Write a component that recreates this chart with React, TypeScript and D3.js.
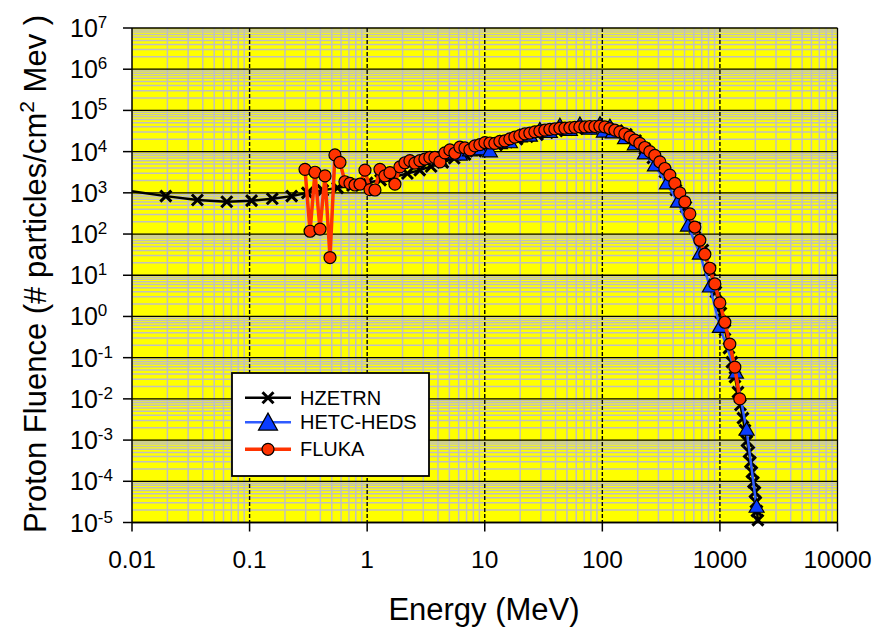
import React from "react";
import * as d3 from "d3";

// HZETRN transport code result
const hzetrnEnergy = [0.008, 0.0194, 0.036, 0.064, 0.104, 0.156, 0.228, 0.31, 0.42, 0.56, 0.75, 1.0, 1.3, 1.7, 2.2, 2.8, 3.5, 4.4, 5.5, 6.8, 8.4, 10.3, 12.6, 15.4, 18.8, 23, 28, 34, 41, 50, 61, 74, 90, 110, 133, 160, 192, 230, 269, 341, 423, 514, 613, 716, 822, 925, 1020, 1104, 1194, 1265, 1343, 1424, 1494, 1570, 1633, 1698, 1766, 1817, 1871, 1927, 1985, 2023, 2065, 2104];
const hzetrnFluence = [1200, 832, 668, 608, 646, 720, 832, 1000, 1150, 1320, 1510, 1740, 2040, 2450, 2950, 3550, 4370, 5500, 6920, 8510, 10200, 12300, 14500, 17000, 20000, 22900, 25700, 28800, 31600, 33900, 35900, 37200, 37600, 36300, 32400, 26300, 18600, 11700, 7000, 3200, 1170, 452, 140, 40.9, 13.4, 3.91, 1.21, 0.468, 0.171, 0.0782, 0.0338, 0.0146, 0.00708, 0.00342, 0.00175, 0.000946, 0.000512, 0.000292, 0.000167, 9.57e-5, 5.47e-5, 3.13e-5, 1.89e-5, 1.14e-5];

// HETC-HEDS Monte Carlo result
const hetcEnergy = [4.16, 5.06, 6.15, 7.48, 9.1, 11.07, 13.46, 16.37, 19.92, 24.2, 29.4, 35.8, 43.6, 53.0, 64.5, 78.5, 95.5, 103, 116, 123, 156, 189, 230, 280, 354, 439, 535, 676, 822, 1000, 1368, 1687, 2051];
const hetcFluence = [6030, 8910, 8320, 10500, 11200, 10000, 15800, 16600, 22900, 24000, 33100, 29500, 41700, 33100, 44700, 35500, 45700, 30200, 39800, 28800, 20900, 14800, 8910, 4570, 1660, 603, 158, 33.1, 5.25, 0.55, 0.0427, 0.00175, 2.37e-5];

// FLUKA Monte Carlo result
const flukaEnergy = [0.296, 0.327, 0.36, 0.397, 0.438, 0.483, 0.532, 0.587, 0.647, 0.714, 0.787, 0.869, 0.958, 1.056, 1.165, 1.284, 1.416, 1.562, 1.722, 1.899, 2.094, 2.31, 2.547, 2.809, 3.098, 3.416, 3.767, 4.155, 4.582, 5.053, 5.573, 6.146, 6.778, 7.475, 8.243, 9.091, 10.03, 11.06, 12.19, 13.45, 14.83, 16.35, 18.04, 19.89, 21.94, 24.19, 26.68, 29.42, 32.45, 35.79, 39.47, 43.53, 48.0, 52.94, 58.38, 64.39, 71.01, 78.31, 86.37, 95.25, 105.0, 115.9, 127.8, 140.9, 155.4, 171.4, 189.0, 208.5, 229.9, 253.6, 279.6, 308.4, 340.1, 375.1, 413.7, 456.2, 503.1, 554.9, 611.9, 674.9, 744.3, 820.8, 905.3, 998.4, 1101, 1214, 1339, 1476];
const flukaFluence = [3720, 117, 3160, 132, 2570, 26.9, 8320, 5500, 1860, 1700, 1550, 1620, 3550, 1200, 1170, 3720, 2570, 3090, 1620, 4270, 5370, 6030, 5250, 6030, 6610, 7240, 7240, 5620, 9330, 11000, 9120, 12900, 12300, 11000, 13800, 14800, 16600, 16200, 15800, 17800, 18200, 20400, 22400, 24500, 26900, 28200, 30200, 31600, 33100, 34700, 35500, 37200, 37200, 38000, 38900, 39800, 39800, 40700, 40700, 41700, 39800, 36300, 33100, 30200, 26900, 22900, 19100, 15800, 12600, 10000, 8130, 5620, 3890, 2690, 1700, 1000, 603, 309, 148, 70.8, 32.4, 14.8, 6.17, 2.14, 0.724, 0.214, 0.0589, 0.01];

const xTickValues = [0.01, 0.1, 1, 10, 100, 1000, 10000];
const xTickLabels = ["0.01", "0.1", "1", "10", "100", "1000", "10000"];
const yExponents = [7, 6, 5, 4, 3, 2, 1, 0, -1, -2, -3, -4, -5];

const seriesNames = ["HZETRN", "HETC-HEDS", "FLUKA"];

const W = 881;
const H = 631;
const left = 132;
const right = 837.5;
const top = 28;
const bottom = 522.5;

const FONT = "'Liberation Sans', Arial, Helvetica, sans-serif";
const RED = "#ff3300";
const BLUE_LINE = "#2f5bff";
const BLUE_FILL = "#0a3cff";

export default function App() {
  const x = d3.scaleLog().domain([0.01, 10000]).range([left, right]);
  const y = d3.scaleLog().domain([1e-5, 1e7]).range([bottom, top]);

  const minorX: number[] = [];
  for (let d = -2; d < 4; d++) {
    for (let m = 2; m <= 9; m++) minorX.push(m * Math.pow(10, d));
  }
  const minorY: number[] = [];
  for (let d = -5; d < 7; d++) {
    for (let m = 2; m <= 9; m++) minorY.push(m * Math.pow(10, d));
  }

  const toPts = (e: number[], f: number[]) => e.map((v, i) => [v, f[i]] as [number, number]);
  const hz = toPts(hzetrnEnergy, hzetrnFluence);
  const he = toPts(hetcEnergy, hetcFluence);
  const fl = toPts(flukaEnergy, flukaFluence);

  const line = d3
    .line<[number, number]>()
    .x((d) => x(d[0]))
    .y((d) => y(d[1]));

  const xMark = (cx: number, cy: number, s: number, key: string | number) => (
    <path
      key={key}
      d={`M${cx - s},${cy - s}L${cx + s},${cy + s}M${cx - s},${cy + s}L${cx + s},${cy - s}`}
      stroke="#000"
      strokeWidth={3}
      fill="none"
    />
  );
  const triMark = (cx: number, cy: number, w: number, h: number, key: string | number) => (
    <path
      key={key}
      d={`M${cx},${cy - h * 0.6}L${cx + w / 2},${cy + h * 0.4}L${cx - w / 2},${cy + h * 0.4}Z`}
      fill={BLUE_FILL}
      stroke="#000"
      strokeWidth={1.2}
    />
  );
  const circMark = (cx: number, cy: number, r: number, key: string | number) => (
    <circle key={key} cx={cx} cy={cy} r={r} fill={RED} stroke="#000" strokeWidth={1.2} />
  );

  const legendX = 232;
  const legendY = 373;
  const legendRows = [397.7, 422.3, 449.3];

  return (
    <svg
      width={W}
      height={H}
      style={{ position: "absolute", left: 0, top: 0, background: "#fff" }}
      fontFamily={FONT}
    >
      <defs>
        <clipPath id="plotClip">
          <rect x={left} y={top - 10} width={right - left} height={bottom - top + 20} />
        </clipPath>
      </defs>

      {/* plot background */}
      <rect x={left} y={top} width={right - left} height={bottom - top} fill="#ffff00" />

      {/* minor gridlines */}
      <g stroke="#c0c0c0" strokeWidth={1.5}>
        {minorX.map((v) => (
          <line key={"mx" + v} x1={x(v)} x2={x(v)} y1={top} y2={bottom} />
        ))}
        {minorY.map((v) => (
          <line key={"my" + v} x1={left} x2={right} y1={y(v)} y2={y(v)} />
        ))}
      </g>

      {/* major gridlines */}
      <g>
        {yExponents.map((e) => (
          <line
            key={"My" + e}
            x1={left}
            x2={right}
            y1={y(Math.pow(10, e))}
            y2={y(Math.pow(10, e))}
            stroke="#000"
            strokeWidth={1.3}
          />
        ))}
        {xTickValues.slice(1, -1).map((v) => (
          <line
            key={"Mx" + v}
            x1={x(v)}
            x2={x(v)}
            y1={top}
            y2={bottom}
            stroke="#000"
            strokeWidth={1.4}
            strokeDasharray="4,2"
          />
        ))}
        <line x1={right} x2={right} y1={top} y2={bottom} stroke="#000" strokeWidth={1.3} />
      </g>

      {/* axes */}
      <g stroke="#000" strokeWidth={1.5}>
        <line x1={left} x2={left} y1={top} y2={bottom} />
        <line x1={left} x2={right} y1={bottom} y2={bottom} />
        {yExponents.map((e) => (
          <line key={"ty" + e} x1={left - 9} x2={left} y1={y(Math.pow(10, e))} y2={y(Math.pow(10, e))} />
        ))}
        {xTickValues.map((v) => (
          <line key={"tx" + v} x1={x(v)} x2={x(v)} y1={bottom} y2={bottom + 9} />
        ))}
      </g>

      {/* tick labels */}
      <g fill="#000">
        {yExponents.map((e) => {
          const ty = y(Math.pow(10, e));
          return (
            <text key={"ly" + e} x={70} y={ty + 9} fontSize={25}>
              10
              <tspan dy={-9} fontSize={17}>
                {e < 0 ? "-" + Math.abs(e) : String(e)}
              </tspan>
            </text>
          );
        })}
        {xTickValues.map((v, i) => (
          <text key={"lx" + v} x={x(v)} y={567.5} fontSize={24.5} textAnchor="middle">
            {xTickLabels[i]}
          </text>
        ))}
      </g>

      {/* axis titles */}
      <text x={484} y={620} fontSize={31} textAnchor="middle">
        Energy (MeV)
      </text>
      <text transform="translate(46,274) rotate(-90)" fontSize={31} textAnchor="middle">
        Proton Fluence (# particles/cm
        <tspan dy={-12} fontSize={21}>
          2
        </tspan>
        <tspan dy={12}> Mev )</tspan>
      </text>

      {/* data series */}
      <g clipPath="url(#plotClip)">
        <path d={line(hz) || ""} fill="none" stroke="#000" strokeWidth={2.5} />
        {hz.map((p, i) => xMark(x(p[0]), y(p[1]), 5.5, "hz" + i))}
        <path d={line(he) || ""} fill="none" stroke={BLUE_LINE} strokeWidth={2.5} />
        {he.map((p, i) => triMark(x(p[0]), y(p[1]), 15, 13, "he" + i))}
        <path d={line(fl) || ""} fill="none" stroke={RED} strokeWidth={3.5} />
        {fl.map((p, i) => circMark(x(p[0]), y(p[1]), 6, "fl" + i))}
      </g>

      {/* legend */}
      <g>
        <rect x={legendX} y={legendY} width={197} height={103} fill="#fff" stroke="#000" strokeWidth={1.8} />
        <line x1={245} x2={291} y1={legendRows[0]} y2={legendRows[0]} stroke="#000" strokeWidth={2.5} />
        {xMark(268, legendRows[0], 5.5, "lg0")}
        <line x1={245} x2={291} y1={legendRows[1]} y2={legendRows[1]} stroke={BLUE_LINE} strokeWidth={2.5} />
        {triMark(268, legendRows[1] + 1, 19, 17, "lg1")}
        <line x1={245} x2={291} y1={legendRows[2]} y2={legendRows[2]} stroke={RED} strokeWidth={3.5} />
        {circMark(268, legendRows[2], 6, "lg2")}
        {seriesNames.map((n, i) => (
          <text key={n} x={300} y={legendRows[i] + 7} fontSize={20}>
            {n}
          </text>
        ))}
      </g>
    </svg>
  );
}
